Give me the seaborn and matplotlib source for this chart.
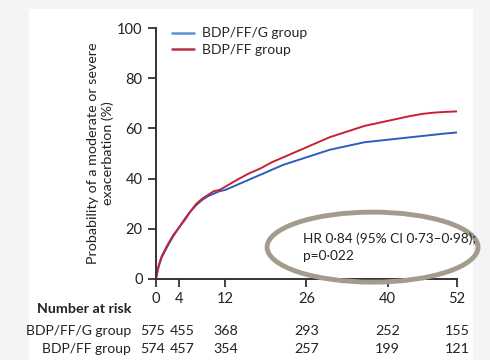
import pandas as pd
import seaborn as sns
import matplotlib.pyplot as plt
from matplotlib.patches import Ellipse, Rectangle
from matplotlib.transforms import blended_transform_factory, offset_copy

# weeks and cumulative probability (%)
weeks = [0, 0.5, 1, 2, 3, 4, 5, 6, 7, 8, 9, 10, 11, 12, 14, 16, 18, 20, 22, 24,
         26, 28, 30, 32, 34, 36, 38, 40, 42, 44, 46, 48, 50, 52]
triple = [0, 5, 8.5, 13, 17, 20.5, 24, 27, 29.5, 31.5, 33, 34, 35, 35.5, 37.5, 39.5,
          41.5, 43.5, 45.5, 47, 48.5, 50, 51.5, 52.5, 53.5, 54.5, 55, 55.5, 56, 56.5,
          57, 57.5, 58, 58.4]
dual = [0, 5.5, 9, 13.5, 17.5, 20.5, 23.5, 27, 30, 32, 33.5, 35, 35.5, 36.8, 39.5, 42,
        44, 46.5, 48.5, 50.5, 52.5, 54.5, 56.5, 58, 59.5, 61, 62, 63, 64, 65, 65.8,
        66.3, 66.6, 66.8]

groups = ["BDP/FF/G group", "BDP/FF group"]
risk_weeks = [0, 4, 12, 26, 40, 52]
risk_triple = [575, 455, 368, 293, 252, 155]
risk_dual = [574, 457, 354, 257, 199, 121]
hr_text = "HR 0·84 (95% CI 0·73–0·98);\np=0·022"

df = pd.concat([
    pd.DataFrame({"week": weeks, "prob": triple, "group": groups[0]}),
    pd.DataFrame({"week": weeks, "prob": dual, "group": groups[1]}),
])

sns.set_style("ticks")
plt.rcParams["font.family"] = ["Lato", "DejaVu Sans"]
ink = "#222222"

fig = plt.figure(figsize=(4.9, 3.6), dpi=100, facecolor="#f3f4f6")
bg = Rectangle((0.06, 0.0), 0.905, 0.975, transform=fig.transFigure,
               facecolor="white", edgecolor="none", zorder=-10)
fig.add_artist(bg)
ax = fig.add_axes([0.318, 0.225, 0.615, 0.697])
ax.set_facecolor("none")

palette = {groups[0]: "#2f5cc0", groups[1]: "#c42336"}
sns.lineplot(data=df, x="week", y="prob", hue="group", palette=palette,
             linewidth=1.4, ax=ax, estimator=None)

ax.set_xlim(0, 52)
ax.set_ylim(0, 100)
ax.set_xticks(risk_weeks)
ax.set_yticks([0, 20, 40, 60, 80, 100])
ax.set_xlabel("")
ax.set_ylabel("Probability of a moderate or severe\nexacerbation (%)", fontsize=10.3,
              color=ink, labelpad=2, linespacing=1.25)
ax.tick_params(labelsize=10.5, colors=ink, length=6, width=1.2)
for s in ["left", "bottom"]:
    ax.spines[s].set_linewidth(1.4)
    ax.spines[s].set_color("#333333")
sns.despine(ax=ax)

leg = ax.legend(loc="upper left", bbox_to_anchor=(0.035, 1.025), frameon=False,
                fontsize=10, handlelength=1.6, handletextpad=0.6,
                labelspacing=0.3, borderaxespad=0)
leg_colors = ["#5b92d2", "#b8303e"]
for line, c in zip(leg.get_lines(), leg_colors):
    line.set_linewidth(1.8)
    line.set_color(c)

# HR annotation inside an ellipse
ell = Ellipse((37.4, 12.7), 36.4, 27.9, facecolor="none", edgecolor="#a39c8c",
              linewidth=3.5, clip_on=False, zorder=3)
ax.add_patch(ell)
ax.text(25.4, 12.8, hr_text, fontsize=9.8, va="center", ha="left",
        color=ink, linespacing=1.5)

# number at risk table
tr = blended_transform_factory(ax.transData, fig.transFigure)
fig.text(0.268, 1 - 309 / 360, "Number at risk", fontsize=10.3, fontweight="bold",
         ha="right", va="center", color=ink)
nudge = {0: -3, 4: 3}
for label, counts, ypix in [(groups[0], risk_triple, 331), (groups[1], risk_dual, 349)]:
    fig.text(0.268, 1 - ypix / 360, label, fontsize=10, ha="right", va="center",
             color=ink)
    for w, c in zip(risk_weeks, counts):
        t = offset_copy(tr, fig=fig, x=nudge.get(w, 0), y=0, units="dots")
        ax.text(w, 1 - ypix / 360, str(c), transform=t, fontsize=10.3,
                ha="center", va="center", color=ink)

plt.savefig("out.png", dpi=100, facecolor=fig.get_facecolor())
